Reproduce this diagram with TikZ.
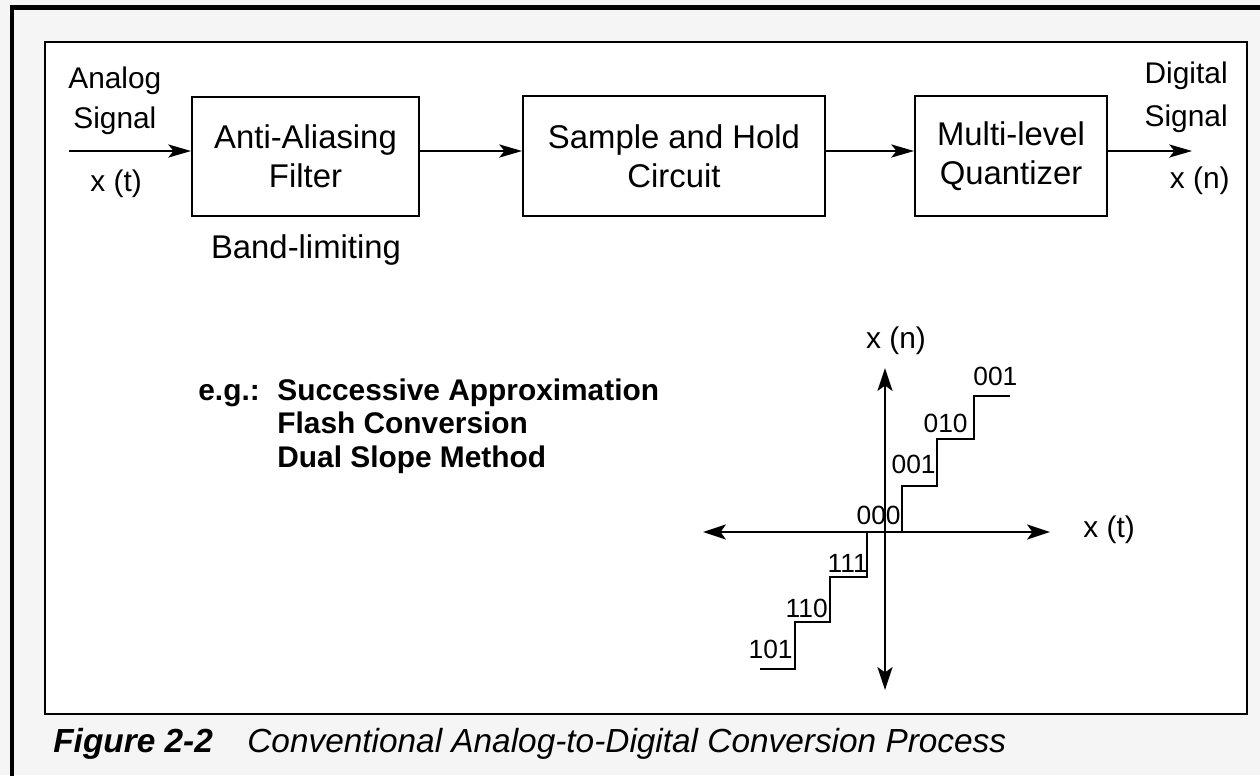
\documentclass[tikz,border=0pt]{standalone}
\usepackage{fontspec}
\setmainfont{Liberation Sans}
\usetikzlibrary{arrows.meta}
\definecolor{paper}{RGB}{245,245,245}

\begin{document}
\begin{tikzpicture}
[x=0.02cm,y=-0.02cm,%
  every node/.style={inner sep=0pt},%
  blk/.style={draw,line width=1.1pt,fill=white,align=center,%
    font=\fontsize{18.7}{22.1}\selectfont},%
  sig/.style={-{Stealth[length=13pt,width=7.5pt,inset=3pt]},line width=0.9pt},%
  axis/.style={{Stealth[length=13pt,width=8.5pt,inset=3pt]}-{Stealth[length=13pt,width=8.5pt,inset=3pt]},line width=1.4pt},%
  stair/.style={line width=1.1pt},%
  lbl/.style={font=\fontsize{17}{20}\selectfont},%
  big/.style={font=\fontsize{18.7}{22.1}\selectfont},%
  bld/.style={font=\fontsize{17}{20}\selectfont\bfseries},%
  code/.style={font=\fontsize{15}{17}\selectfont},%
  capt/.style={font=\fontsize{19}{22}\selectfont\itshape}]
\useasboundingbox (0,0) rectangle (1260,775);
\clip (0,0) rectangle (1260,775);
\fill[paper] (0,0) rectangle (1260,775);
\draw[line width=2.6pt] (12,7.5) rectangle (1300,800);
\draw[line width=1.1pt,fill=white] (45,42) rectangle (1247,714);

% signal chain
\node[blk,minimum width=4.54cm,minimum height=2.38cm] (aaf) at (305.5,156.5) {Anti-Aliasing\\Filter};
\node[blk,minimum width=6.04cm,minimum height=2.4cm] (sah) at (674,156) {Sample and Hold\\Circuit};
\node[blk,minimum width=3.84cm,minimum height=2.4cm] (mlq) at (1011,156) {Multi-level\\Quantizer};
\coordinate (in) at (69,151);
\coordinate (out) at (1192,151);
\draw[sig] (in) -- (in -| aaf.west);
\draw[sig] (aaf.east |- in) -- (in -| sah.west);
\draw[sig] (sah.east |- in) -- (in -| mlq.west);
\draw[sig] (mlq.east |- in) -- (out);

\node[lbl,anchor=base west] (ana) at (68,88) {Analog};
\node[lbl,anchor=base west] (sigin) at (73,128) {Signal};
\node[lbl,anchor=base west] (xt) at (90,191) {x (t)};
\node[big,anchor=base] (band) at (306,258) {Band-limiting};
\node[lbl,anchor=base east] (dig) at (1228,83) {Digital};
\node[lbl,anchor=base east] (sigout) at (1228,126) {Signal};
\node[lbl,anchor=base east] (xn) at (1230,188) {x (n)};

% methods
\node[bld,anchor=base west] (eg) at (198,400) {e.g.:};
\node[bld,anchor=base west] (sa) at (277,400) {Successive Approximation};
\node[bld,anchor=base west] (fc) at (277,433.5) {Flash Conversion};
\node[bld,anchor=base west] (ds) at (277,467) {Dual Slope Method};

% quantizer characteristic
\coordinate (ytop) at (885,368);
\coordinate (ybot) at (885,690);
\coordinate (xlft) at (703,532);
\coordinate (xrgt) at (1050,532);
\draw[axis] (ybot) -- (ytop);
\draw[axis] (xlft) -- (xrgt);
\node[lbl,anchor=base] (yname) at (896,348) {x (n)};
\node[lbl,anchor=base west] (xname) at (1083,537) {x (t)};
\draw[stair] (760,669) -| (795,622) -| (830,577) -| (867,532) -| (902,486)
  -| (937,439) -| (974,396) -- (1010,396);
\node[code,anchor=base east] (c1) at (793,658) {101};
\node[code,anchor=base east] (c2) at (828,617) {110};
\node[code,anchor=base east] (c3) at (868,572) {111};
\node[code,anchor=base east] (c4) at (901,524) {000};
\node[code,anchor=base east] (c5) at (936,473) {001};
\node[code,anchor=base east] (c6) at (968,432) {010};
\node[code,anchor=base west] (c7) at (973,385) {001};

% caption
\node[capt,anchor=base west] (fig) at (53,752) {\bfseries Figure 2-2};
\node[capt,anchor=base west] (title) at (247,752) {Conventional Analog-to-Digital Conversion Process};
\end{tikzpicture}
\end{document}
